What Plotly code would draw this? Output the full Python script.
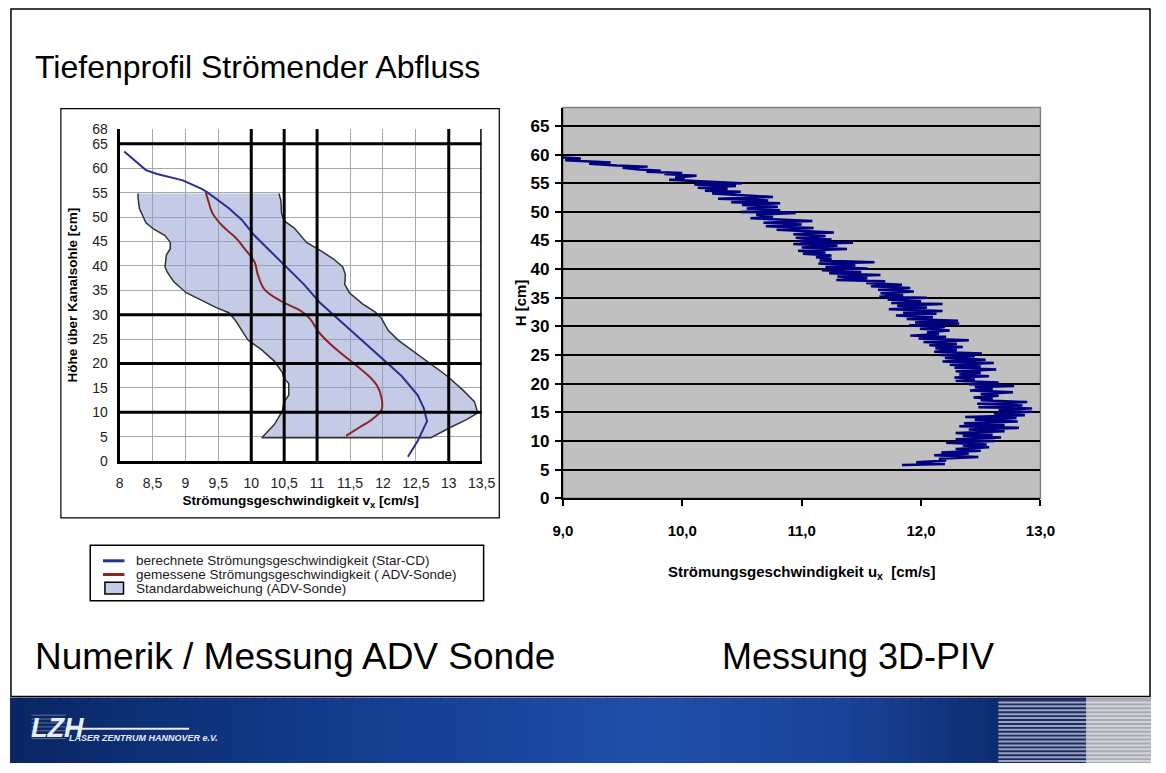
import plotly.graph_objects as go

W, H = 1166, 773

# ---------------- Left chart data (Numerik / ADV) ----------------
star_h = [63.4, 59.6, 58.8, 57.5, 55.8, 55.0, 51.8, 49.5, 46.2, 42.8, 39.5, 36.2,
          32.5, 29.5, 26.5, 23.5, 20.5, 17.5, 13.5, 10.9, 8.2, 4.2, 0.9]
star_v = [8.07, 8.40, 8.57, 8.96, 9.24, 9.34, 9.66, 9.85, 10.05, 10.30, 10.55, 10.80,
          11.04, 11.29, 11.54, 11.78, 12.03, 12.28, 12.53, 12.62, 12.67, 12.53, 12.38]

adv_h = [55.0, 53.2, 50.8, 48.2, 45.8, 43.5, 40.8, 38.2, 35.2, 32.8, 30.8, 29.2,
         26.2, 22.9, 20.2, 17.5, 15.5, 12.9, 10.5, 8.5, 6.9, 5.2]
adv_v = [9.31, 9.35, 9.41, 9.56, 9.76, 9.90, 10.05, 10.10, 10.20, 10.45, 10.75, 10.89,
         11.04, 11.29, 11.54, 11.78, 11.91, 11.98, 11.98, 11.83, 11.64, 11.44]

band_right_h = [54.8, 53.4, 50.8, 49.2, 47.8, 44.8, 43.2, 41.5, 39.8, 38.2, 36.2, 34.5,
                32.2, 30.5, 29.2, 26.8, 24.8, 22.8, 20.5, 17.5, 14.5, 12.2, 9.9, 8.5,
                6.9, 4.8]
band_right_v = [10.42, 10.45, 10.46, 10.50, 10.65, 10.84, 11.04, 11.24, 11.39, 11.43,
                11.42, 11.49, 11.69, 11.89, 11.98, 12.08, 12.23, 12.43, 12.67, 12.97,
                13.22, 13.39, 13.44, 13.27, 13.02, 12.73]
band_left_h = [4.8, 7.5, 10.2, 12.2, 13.5, 15.9, 16.9, 18.2, 20.5, 22.9, 24.8, 28.8,
               30.4, 31.5, 33.2, 34.5, 36.8, 38.8, 39.8, 42.2, 43.5, 44.8, 46.2, 47.5,
               48.8, 50.2, 51.8, 54.0, 54.8]
band_left_v = [10.16, 10.35, 10.47, 10.50, 10.57, 10.57, 10.50, 10.47, 10.35, 10.15,
               9.95, 9.76, 9.66, 9.46, 9.21, 9.01, 8.82, 8.72, 8.69, 8.71, 8.77, 8.77,
               8.69, 8.52, 8.40, 8.35, 8.30, 8.28, 8.28]

left_x_thick = [10, 10.5, 11, 13, 13.5]
left_y_thick = [10, 20, 30, 65]
left_y_ticks = [0, 5, 10, 15, 20, 25, 30, 35, 40, 45, 50, 55, 60, 65, 68]

legend_labels = ["berechnete Strömungsgeschwindigkeit (Star-CD)",
                 "gemessene Strömungsgeschwindigkeit ( ADV-Sonde)",
                 "Standardabweichung (ADV-Sonde)"]

# ---------------- Right chart data (3D-PIV) ----------------
piv_h = [59.5, 59.3, 59.0, 58.8, 58.6, 58.4, 58.1, 57.9, 57.7, 57.4, 57.2, 57.0,
         56.8, 56.6, 56.3, 56.0, 55.8, 55.6, 55.3, 55.0, 54.8, 54.5, 54.2, 54.0,
         53.7, 53.5, 53.2, 52.9, 52.6, 52.3, 52.0, 51.7, 51.5, 51.2, 50.9, 50.6,
         50.3, 50.0, 49.8, 49.5, 49.1, 48.9, 48.6, 48.4, 48.1, 47.8, 47.5, 47.2,
         46.9, 46.6, 46.4, 46.1, 45.8, 45.5, 45.2, 44.9, 44.6, 44.4, 44.1, 43.8,
         43.5, 43.2, 42.9, 42.7, 42.4, 42.1, 41.8, 41.5, 41.2, 41.0, 40.7, 40.4,
         40.1, 39.8, 39.5, 39.3, 39.0, 38.7, 38.4, 38.1, 37.9, 37.6, 37.3, 37.0,
         36.7, 36.4, 36.1, 35.8, 35.5, 35.2, 35.0, 34.7, 34.4, 34.1, 33.9, 33.6,
         33.3, 33.0, 32.7, 32.4, 32.2, 31.9, 31.6, 31.3, 31.0, 30.7, 30.5, 30.2,
         29.9, 29.6, 29.3, 29.0, 28.7, 28.4, 28.2, 27.9, 27.6, 27.3, 27.0, 26.7,
         26.4, 26.2, 25.9, 25.6, 25.3, 25.0, 24.8, 24.5, 24.2, 23.9, 23.6, 23.3,
         23.0, 22.8, 22.5, 22.2, 21.9, 21.6, 21.3, 21.1, 20.8, 20.5, 20.2, 19.9,
         19.6, 19.4, 19.1, 18.8, 18.5, 18.2, 17.9, 17.6, 17.4, 17.1, 16.8, 16.5,
         16.2, 15.9, 15.7, 15.4, 15.1, 14.8, 14.5, 14.2, 14.0, 13.7, 13.4, 13.1,
         12.8, 12.6, 12.3, 12.0, 11.7, 11.4, 11.1, 10.9, 10.6, 10.3, 10.0, 9.7,
         9.4, 9.2, 8.9, 8.6, 8.3, 8.0, 7.8, 7.5, 7.2, 6.9, 6.6, 6.3, 6.0, 5.8, 5.6]
piv_v = [9.00, 9.15, 9.02, 9.20, 9.40, 9.22, 9.45, 9.71, 9.50, 9.64, 9.82, 9.70,
         10.00, 9.85, 10.12, 9.94, 10.02, 9.89, 10.20, 10.50, 10.10, 10.45, 10.13, 10.38,
         10.19, 10.49, 10.25, 10.50, 10.76, 10.30, 10.72, 10.41, 10.82, 10.50, 10.80, 10.54,
         10.82, 10.49, 10.95, 10.62, 10.76, 10.57, 10.85, 11.09, 10.68, 11.00, 10.70, 11.10,
         10.79, 11.15, 11.27, 10.93, 11.20, 10.95, 11.25, 10.98, 11.43, 10.93, 11.30, 11.00,
         11.38, 10.97, 11.20, 11.01, 11.25, 11.12, 11.25, 11.15, 11.61, 11.14, 11.45, 11.20,
         11.55, 11.17, 11.50, 11.23, 11.66, 11.30, 11.55, 11.29, 11.70, 11.54, 11.84, 11.58,
         11.91, 11.64, 11.94, 11.66, 11.85, 11.65, 12.05, 11.72, 12.00, 11.75, 12.18, 11.80,
         12.05, 11.73, 12.18, 11.85, 12.13, 11.79, 12.10, 11.88, 12.31, 11.95, 12.32, 11.90,
         12.20, 11.99, 12.24, 12.05, 12.15, 11.91, 12.21, 11.98, 12.40, 12.02, 12.30, 12.07,
         12.35, 12.12, 12.30, 12.11, 12.51, 12.16, 12.45, 12.20, 12.54, 12.18, 12.61, 12.24,
         12.50, 12.28, 12.63, 12.29, 12.50, 12.32, 12.57, 12.28, 12.45, 12.29, 12.65, 12.40,
         12.78, 12.45, 12.60, 12.41, 12.77, 12.50, 12.65, 12.44, 12.60, 12.50, 12.89, 12.47,
         12.85, 12.48, 12.93, 12.65, 12.93, 12.61, 12.87, 12.37, 12.80, 12.45, 12.81, 12.36,
         12.70, 12.32, 12.82, 12.40, 12.70, 12.29, 12.60, 12.35, 12.67, 12.29, 12.62, 12.21,
         12.55, 12.35, 12.57, 12.29, 12.50, 12.17, 12.40, 12.11, 12.48, 12.15, 12.21, 11.96,
         12.20, 11.85, 11.85]
right_x_ticks = [9, 10, 11, 12, 13]
right_y_ticks = [0, 5, 10, 15, 20, 25, 30, 35, 40, 45, 50, 55, 60, 65]

# ---------------- Styles ----------------
FONT = "Liberation Sans, Arial, sans-serif"
NARROW = "Liberation Sans Narrow, Arial Narrow, Liberation Sans, Arial, sans-serif"
BLUE = "#2b2f8f"
RED = "#8e2424"
BAND_FILL = "rgba(135,151,205,0.5)"
BAND_LINE = "#333333"
PIV = "#000080"


def px(x):
    return x / W


def py(y):
    return 1 - y / H


fig = go.Figure()

band_x = band_right_v + band_left_v
band_y = band_right_h + band_left_h
fig.add_trace(go.Scatter(x=band_x, y=band_y, fill="toself", fillcolor=BAND_FILL,
                         mode="lines", line=dict(color=BAND_LINE, width=1.5),
                         name=legend_labels[2], xaxis="x", yaxis="y", showlegend=False))
fig.add_trace(go.Scatter(x=adv_v, y=adv_h, mode="lines", line=dict(color=RED, width=2, shape="spline"),
                         name=legend_labels[1], xaxis="x", yaxis="y", showlegend=False))
fig.add_trace(go.Scatter(x=star_v, y=star_h, mode="lines", line=dict(color=BLUE, width=2),
                         name=legend_labels[0], xaxis="x", yaxis="y", showlegend=False))
fig.add_trace(go.Scatter(x=piv_v, y=piv_h, mode="lines", line=dict(color=PIV, width=2.5),
                         name="3D-PIV", xaxis="x2", yaxis="y2", showlegend=False))

shapes = []
# left chart thick grid lines
for xv in left_x_thick:
    shapes.append(dict(type="line", xref="x", yref="paper", x0=xv, x1=xv, y0=py(464), y1=py(124),
                       line=dict(color="black", width=3), layer="above"))
for yv in left_y_thick:
    shapes.append(dict(type="line", xref="paper", yref="y", x0=px(112), x1=px(482), y0=yv, y1=yv,
                       line=dict(color="black", width=3), layer="above"))
# right chart background
shapes.append(dict(type="rect", xref="paper", yref="paper", x0=px(565), x1=px(1053),
                   y0=py(502), y1=py(102),
                   fillcolor="#c0c0c0", line=dict(color="#808080", width=1.5), layer="below"))
# left chart frame
shapes.append(dict(type="rect", xref="paper", yref="paper", x0=px(52), x1=px(500),
                   y0=py(522), y1=py(103), line=dict(color="black", width=1.2)))
# legend box
shapes.append(dict(type="rect", xref="paper", yref="paper", x0=px(82), x1=px(484),
                   y0=py(607), y1=py(550), line=dict(color="black", width=1.5)))
leg_rows = [566, 580, 594]
shapes.append(dict(type="line", xref="paper", yref="paper", x0=px(95), x1=px(117),
                   y0=py(leg_rows[0]), y1=py(leg_rows[0]), line=dict(color=BLUE, width=3)))
shapes.append(dict(type="line", xref="paper", yref="paper", x0=px(95), x1=px(117),
                   y0=py(leg_rows[1]), y1=py(leg_rows[1]), line=dict(color=RED, width=3)))
shapes.append(dict(type="rect", xref="paper", yref="paper", x0=px(97), x1=px(116),
                   y0=py(600), y1=py(588), fillcolor="#c3cbe6", line=dict(color="black", width=1.5)))
# slide frame
shapes.append(dict(type="rect", xref="paper", yref="paper", x0=px(1), x1=px(1165),
                   y0=py(705), y1=py(1), line=dict(color="black", width=1.5)))

# footer banner (decorative gradient)
stops = [(0, (10, 38, 100)), (300, (18, 58, 138)), (650, (31, 79, 168)),
         (850, (26, 68, 153)), (1010, (14, 44, 112))]
def interp(xp):
    for (a, ca), (b, cb) in zip(stops[:-1], stops[1:]):
        if a <= xp <= b:
            t = (xp - a) / (b - a)
            return tuple(int(ca[i] + (cb[i] - ca[i]) * t) for i in range(3))
    return stops[-1][1]
step = 10
for x0 in range(0, 1010, step):
    c = interp(x0 + step / 2)
    shapes.append(dict(type="rect", xref="paper", yref="paper", x0=px(x0), x1=px(x0 + step + 1),
                       y0=0, y1=py(706), fillcolor="rgb(%d,%d,%d)" % c, line=dict(width=0)))
shapes.append(dict(type="rect", xref="paper", yref="paper", x0=px(1010), x1=px(1100),
                   y0=0, y1=py(706), fillcolor="#1a2d66", line=dict(width=0)))
shapes.append(dict(type="rect", xref="paper", yref="paper", x0=px(1100), x1=1,
                   y0=0, y1=py(706), fillcolor="#a9abb4", line=dict(width=0)))
for yy in range(711, 773, 4):
    shapes.append(dict(type="line", xref="paper", yref="paper", x0=px(1010), x1=px(1100),
                       y0=py(yy), y1=py(yy), line=dict(color="#9aa3bb", width=2)))
    shapes.append(dict(type="line", xref="paper", yref="paper", x0=px(1100), x1=1,
                       y0=py(yy), y1=py(yy), line=dict(color="#d4d5da", width=2)))
# logo stripes
for yy in range(724, 751, 4):
    shapes.append(dict(type="line", xref="paper", yref="paper", x0=px(22), x1=px(57),
                       y0=py(yy), y1=py(yy), line=dict(color="rgba(255,255,255,0.35)", width=1)))
shapes.append(dict(type="line", xref="paper", yref="paper", x0=px(57), x1=px(183),
                   y0=py(738), y1=py(738), line=dict(color="#e8ecf5", width=2)))

annotations = [
    dict(text="Tiefenprofil Strömender Abfluss", x=px(24), y=py(60), xanchor="left", yanchor="middle",
         font=dict(family=FONT, size=32, color="black")),
    dict(text="Numerik / Messung ADV Sonde", x=px(24), y=py(664), xanchor="left", yanchor="middle",
         font=dict(family=FONT, size=37, color="black")),
    dict(text="Messung 3D-PIV", x=px(726), y=py(664), xanchor="left", yanchor="middle",
         font=dict(family=FONT, size=36, color="black")),
    dict(text="<b><i>LZH</i></b>", x=px(19), y=py(737), xanchor="left", yanchor="middle",
         font=dict(family=FONT, size=27, color="#e8ecf5")),
    dict(text="<b><i>LASER ZENTRUM HANNOVER e.V.</i></b>", x=px(58), y=py(747), xanchor="left",
         yanchor="middle", font=dict(family=NARROW, size=9, color="#e8ecf5")),
]
for lbl, row in zip(legend_labels, leg_rows):
    annotations.append(dict(text=lbl, x=px(127), y=py(row), xanchor="left", yanchor="middle",
                            font=dict(family=FONT, size=13.5, color="#1a1a1a")))
for a in annotations:
    a.update(xref="paper", yref="paper", showarrow=False)

fig.update_layout(
    width=W, height=H, autosize=False,
    margin=dict(l=0, r=0, t=0, b=0),
    paper_bgcolor="white", plot_bgcolor="rgba(0,0,0,0)",
    separators=",.",
    font=dict(family=FONT, color="black"),
    showlegend=False,
    shapes=shapes, annotations=annotations,
    xaxis=dict(domain=[px(112), px(482)], range=[8, 13.5], tick0=8, dtick=0.5,
               showgrid=True, gridcolor="#a8a8a8", gridwidth=1, zeroline=False,
               showline=True, linecolor="black", linewidth=3, ticks="",
               ticklabelstandoff=7, tickfont=dict(family=FONT, size=14, color="#222"),
               title=dict(text="<b>Strömungsgeschwindigkeit v<sub>x</sub> [cm/s]</b>",
                          font=dict(family=FONT, size=13.5), standoff=6),
               anchor="y", fixedrange=True),
    yaxis=dict(domain=[py(464), py(124)], range=[0, 68], tickvals=left_y_ticks,
               showgrid=True, gridcolor="#a8a8a8", gridwidth=1, zeroline=False,
               showline=True, linecolor="black", linewidth=3, ticks="",
               ticklabelstandoff=6, tickfont=dict(family=FONT, size=14, color="#222"),
               title=dict(text="<b>Höhe über Kanalsohle [cm]</b>",
                          font=dict(family=FONT, size=13.5), standoff=12),
               anchor="x", fixedrange=True),
    xaxis2=dict(domain=[px(565), px(1053)], range=[9, 13], tickvals=right_x_ticks,
                tickformat=".1f", showgrid=False, zeroline=False,
                showline=True, linecolor="black", linewidth=2,
                ticks="outside", ticklen=6, tickwidth=2, tickcolor="black",
                ticklabelstandoff=12,
                tickfont=dict(family=NARROW, size=15, weight="bold"),
                title=dict(text="<b>Strömungsgeschwindigkeit u<sub>x</sub>  [cm/s]</b>",
                           font=dict(family=NARROW, size=15), standoff=28),
                anchor="y2", fixedrange=True),
    yaxis2=dict(domain=[py(502), py(102)], range=[0, 68.2], tickvals=right_y_ticks,
                showgrid=True, gridcolor="black", gridwidth=2, zeroline=False,
                showline=True, linecolor="black", linewidth=2,
                ticks="outside", ticklen=6, tickwidth=2, tickcolor="black",
                ticklabelstandoff=2,
                tickfont=dict(family=NARROW, size=17, weight="bold"),
                title=dict(text="<b>H [cm]</b>", font=dict(family=NARROW, size=15), standoff=0),
                anchor="x2", fixedrange=True),
)

fig.write_html("out.html", config={"displayModeBar": False},
               post_script="document.body.style.margin='0px';")
